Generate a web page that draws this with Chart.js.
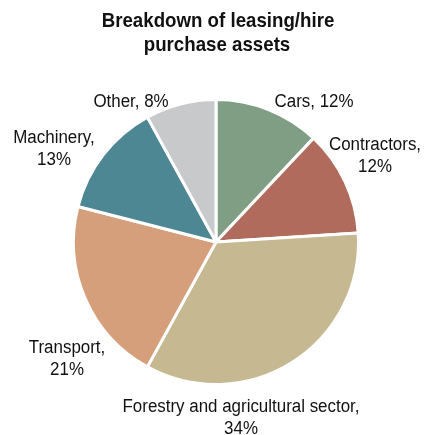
<!DOCTYPE html>
<html>
<head>
<meta charset="utf-8">
<script src="https://cdn.jsdelivr.net/npm/chart.js@4"></script>
<style>
  html, body { margin: 0; padding: 0; background: #fff; }
  #wrap { width: 429px; height: 435px; }
</style>
</head>
<body>
<div id="wrap"><canvas id="assetPie" width="429" height="435"></canvas></div>
<script>
// asset categories, clockwise from 12 o'clock
const categories = ['Cars', 'Contractors', 'Forestry and agricultural sector', 'Transport', 'Machinery', 'Other'];
const shares = [12, 12, 34, 21, 13, 8];
const sliceColors = ['#7f9e84', '#b06b5c', '#c6b891', '#d49f7a', '#4d8793', '#c8c9cb'];

// label lines and where they sit (centre x, baseline y)
const labelLines = [
    [['Cars, 12%', 314, 107]],
    [['Contractors,', 375, 150], ['12%', 375, 172]],
    [['Forestry and agricultural sector,', 241, 412], ['34%', 241, 434]],
    [['Transport,', 67, 353], ['21%', 67, 375]],
    [['Machinery,', 54, 143], ['13%', 54, 165]],
    [['Other, 8%', 131, 107]],
];
const titleLines = ['Breakdown of leasing/hire', 'purchase assets'];

const FONT = '"Liberation Sans", Arial, sans-serif';

// squeeze text horizontally to get a condensed look
function condensedText(ctx, text, x, y, squeeze) {
    ctx.save();
    ctx.translate(x, y);
    ctx.scale(squeeze, 1);
    ctx.fillText(text, 0, 0);
    ctx.restore();
}

const labelsPlugin = {
    id: 'pieLabels',
    afterDraw(chart) {
        const ctx = chart.ctx;
        ctx.save();
        ctx.fillStyle = '#111';
        ctx.textAlign = 'center';
        ctx.textBaseline = 'alphabetic';

        ctx.font = 'bold 21px ' + FONT;
        condensedText(ctx, titleLines[0], 218, 27, 0.89);
        condensedText(ctx, titleLines[1], 217, 51, 0.89);

        ctx.font = '18px ' + FONT;
        labelLines.forEach((lines) => {
            lines.forEach(([text, x, y]) => condensedText(ctx, text, x, y, 0.94));
        });
        ctx.restore();
    },
};

new Chart(document.getElementById('assetPie'), {
    type: 'pie',
    data: {
        labels: categories,
        datasets: [{
            data: shares,
            backgroundColor: sliceColors,
            borderColor: '#fff',
            borderWidth: 3,
        }],
    },
    options: {
        responsive: false,
        animation: false,
        layout: { padding: { left: 72, right: 69, top: 98, bottom: 49 } },
        plugins: {
            legend: { display: false },
            tooltip: { enabled: false },
            title: { display: false },
        },
    },
    plugins: [labelsPlugin],
});
</script>
</body>
</html>
